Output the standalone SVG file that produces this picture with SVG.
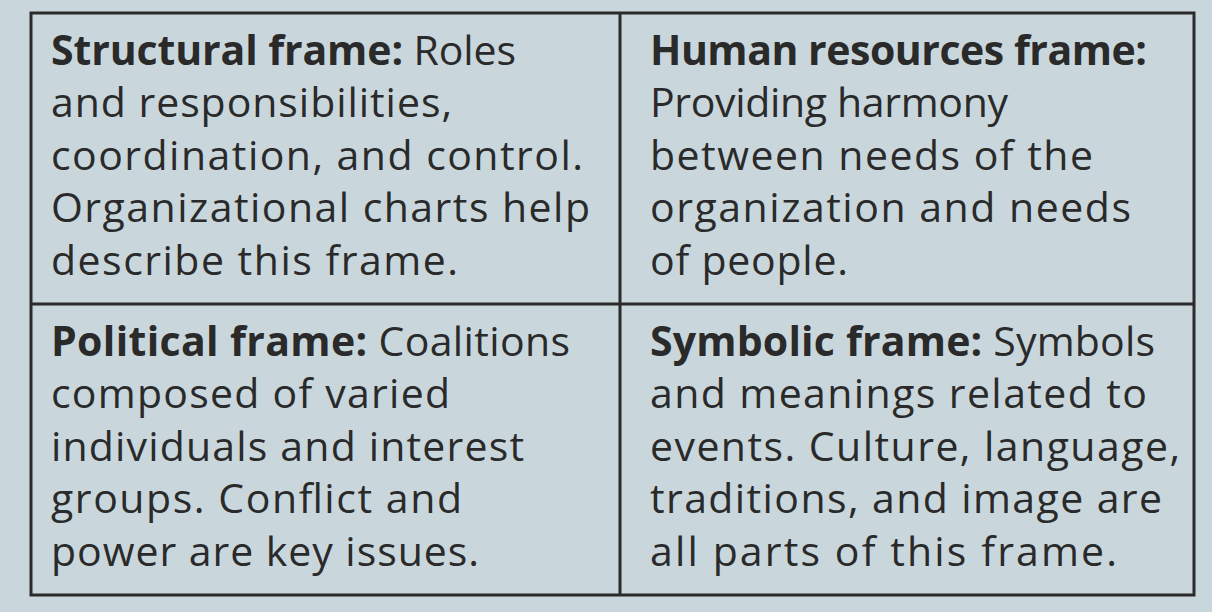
<svg xmlns="http://www.w3.org/2000/svg" width="1212" height="612" viewBox="0 0 1212 612">
  <style>
    .bg { fill: #c9d7dd; }
    .frame { fill: none; stroke: #2b2b2b; stroke-width: 3; }
    .rule { stroke: #2b2b2b; stroke-width: 3; }
    text { font-family: "Open Sans", "Noto Sans", sans-serif; font-size: 41px; fill: #2a2a2a; }
    .b { font-weight: bold; }
  </style>
  <rect class="bg" x="0" y="0" width="1212" height="612"/>
  <g id="grid">
    <rect class="frame" x="31" y="13" width="1163" height="582"/>
    <line class="rule" x1="620" y1="13" x2="620" y2="595"/>
    <line class="rule" x1="31" y1="304" x2="1194" y2="304"/>
  </g>
  <g id="structural">
    <text x="51" y="65" textLength="465" lengthAdjust="spacing"><tspan class="b">Structural frame:</tspan> Roles</text>
    <text x="51" y="117" textLength="401" lengthAdjust="spacing">and responsibilities,</text>
    <text x="51" y="170" textLength="532" lengthAdjust="spacing">coordination, and control.</text>
    <text x="51" y="222" textLength="539" lengthAdjust="spacing">Organizational charts help</text>
    <text x="51" y="275" textLength="407" lengthAdjust="spacing">describe this frame.</text>
  </g>
  <g id="human-resources">
    <text x="650" y="65" textLength="497" lengthAdjust="spacing"><tspan class="b">Human resources frame:</tspan></text>
    <text x="650" y="117" textLength="358" lengthAdjust="spacing">Providing harmony</text>
    <text x="650" y="170" textLength="443" lengthAdjust="spacing">between needs of the</text>
    <text x="650" y="222" textLength="481" lengthAdjust="spacing">organization and needs</text>
    <text x="650" y="275" textLength="198" lengthAdjust="spacing">of people.</text>
  </g>
  <g id="political">
    <text x="51" y="356" textLength="519" lengthAdjust="spacing"><tspan class="b">Political frame:</tspan> Coalitions</text>
    <text x="51" y="408" textLength="399" lengthAdjust="spacing">composed of varied</text>
    <text x="51" y="461" textLength="473" lengthAdjust="spacing">individuals and interest</text>
    <text x="51" y="513" textLength="411" lengthAdjust="spacing">groups. Conflict and</text>
    <text x="51" y="566" textLength="428" lengthAdjust="spacing">power are key issues.</text>
  </g>
  <g id="symbolic">
    <text x="650" y="356" textLength="505" lengthAdjust="spacing"><tspan class="b">Symbolic frame:</tspan> Symbols</text>
    <text x="650" y="408" textLength="497" lengthAdjust="spacing">and meanings related to</text>
    <text x="650" y="461" textLength="530" lengthAdjust="spacing">events. Culture, language,</text>
    <text x="650" y="513" textLength="512" lengthAdjust="spacing">traditions, and image are</text>
    <text x="650" y="566" textLength="467" lengthAdjust="spacing">all parts of this frame.</text>
  </g>
</svg>
